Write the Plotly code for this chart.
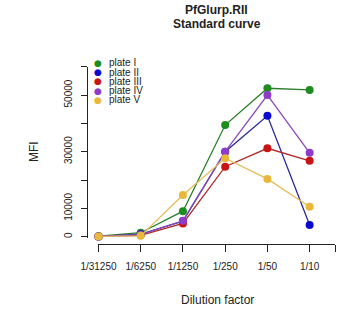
import plotly.graph_objects as go

categories = ["1/31250", "1/6250", "1/1250", "1/250", "1/50", "1/10"]
series_names = ["plate I", "plate II", "plate III", "plate IV", "plate V"]
plate_I = [200, 1400, 9000, 39400, 52400, 51800]
plate_II = [100, 900, 5500, 30000, 42700, 4100]
plate_III = [50, 500, 4700, 24700, 31200, 26800]
plate_IV = [100, 700, 5600, 30000, 50000, 29600]
plate_V = [100, 300, 14700, 27700, 20400, 10600]
y_tick_vals = [0, 10000, 20000, 30000, 40000, 50000, 60000]
y_tick_text = ["0", "10000", "", "30000", "", "50000", ""]

colors = ["#1e8c1e", "#0a0ad2", "#c81414", "#8c3cc8", "#e8b83a"]
line_colors = ["#2a7f2a", "#2a2a9a", "#b02a2a", "#8a4ab8", "#e2be5a"]
all_series = [plate_I, plate_II, plate_III, plate_IV, plate_V]

W, H = 339, 320
FONT = "Liberation Sans, Arial, sans-serif"

x_pos = list(range(1, len(categories) + 1))
fig = go.Figure()
for name, vals, c, lc in zip(series_names, all_series, colors, line_colors):
    fig.add_trace(go.Scatter(
        x=x_pos, y=vals, mode="lines+markers", name=name,
        line=dict(color=lc, width=1.3),
        marker=dict(color=c, size=8),
        cliponaxis=False, showlegend=False,
    ))

# axis geometry (pixels)
x_axis_left, x_axis_right, x_axis_y = 85, 335, 244
y_axis_x, y_top_px, y_bottom_px = 73, 66.7, 237.55
step = 44.6
x_end = 1 + (x_axis_right - x_axis_left) / step

fig.update_layout(
    width=W, height=H,
    margin=dict(l=0, r=0, t=0, b=0),
    paper_bgcolor="white", plot_bgcolor="white",
    font=dict(family=FONT, size=10, color="black"),
    xaxis=dict(
        domain=[x_axis_left / W, x_axis_right / W],
        range=[1, x_end],
        anchor="free", position=1 - x_axis_y / H,
        tickvals=x_pos + [x_end], ticktext=categories + [""],
        ticks="outside", ticklen=7, tickcolor="#222", tickwidth=1,
        showline=True, linecolor="#222", linewidth=1,
        showgrid=False, zeroline=False,
        tickfont=dict(size=10, color="#222"),
        ticklabelstandoff=6,
    ),
    yaxis=dict(
        domain=[1 - y_bottom_px / H, 1 - y_top_px / H],
        range=[-300, 60000],
        anchor="free", position=y_axis_x / W,
        tickvals=y_tick_vals, ticktext=y_tick_text,
        ticks="outside", ticklen=6, tickcolor="#222", tickwidth=1,
        showline=True, linecolor="#222", linewidth=1,
        showgrid=False, zeroline=False,
        tickangle=-90,
        tickfont=dict(size=10, color="#222"),
        ticklabelstandoff=5,
    ),
)

annotations = [
    dict(text="<b>PfGlurp.RII</b>", x=210 / W, y=1 - 10 / H, size=12),
    dict(text="<b>Standard curve</b>", x=210 / W, y=1 - 24.5 / H, size=12),
    dict(text="Dilution factor", x=211 / W, y=1 - 300 / H, size=12),
]
for a in annotations:
    fig.add_annotation(
        text=a["text"], x=a["x"], y=a["y"], xref="paper", yref="paper",
        xanchor="center", yanchor="middle", showarrow=False,
        font=dict(family=FONT, size=a["size"], color="#222"),
    )
fig.add_annotation(
    text="MFI", x=17 / W, y=1 - 152 / H, xref="paper", yref="paper",
    xanchor="center", yanchor="middle", showarrow=False, textangle=-90,
    font=dict(family=FONT, size=12, color="#222"),
)

# legend (R-style, tight rows)
legend_top = 62.7
row_h = 9.3
for i, (name, c) in enumerate(zip(series_names, colors)):
    ypx = legend_top + i * row_h
    fig.add_annotation(
        text="●", x=84.5 / W, y=1 - ypx / H, xref="paper", yref="paper",
        xanchor="center", yanchor="middle", showarrow=False,
        font=dict(family="DejaVu Sans", size=9, color=c),
    )
    fig.add_annotation(
        text=name, x=94 / W, y=1 - ypx / H, xref="paper", yref="paper",
        xanchor="left", yanchor="middle", showarrow=False,
        font=dict(family=FONT, size=10, color="#222"),
    )

fig.write_html(
    "out.html",
    config={"displayModeBar": False},
    post_script=(
        "document.documentElement.style.margin='0';"
        "document.documentElement.style.overflow='hidden';"
        "document.body.style.margin='0';document.body.style.padding='0';"
        "document.body.style.overflow='hidden';"
    ),
)
